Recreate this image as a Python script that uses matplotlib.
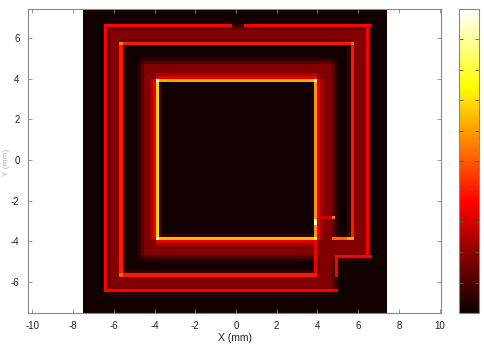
import numpy as np
import matplotlib
matplotlib.use("Agg")
import matplotlib.pyplot as plt

plt.rcParams["font.family"] = ["Liberation Sans", "DejaVu Sans"]
plt.rcParams["axes.unicode_minus"] = False

# field map sampling (mm)
x_range = [-7.5, 7.4]
y_range = [-7.54, 7.44]
n_cells = 100
background = 0.015

# spiral tracks: x0, x1, y0, y1 (mm)
tracks = [
    (-6.42, 6.58, 5.80, 6.65),    # outer turn, top
    (-6.42, -5.60, -6.50, 6.65),  # outer turn, left
    (5.74, 6.58, -4.83, 6.65),    # outer turn, right
    (-6.42, 4.95, -6.50, -5.70),  # outer turn, bottom
    (3.97, 4.95, -6.50, -3.90),   # crossover
    (-4.75, 4.95, 4.00, 4.96),    # inner turn, top
    (-4.75, -3.86, -4.83, 4.96),  # inner turn, left
    (4.00, 4.95, -4.83, 4.96),    # inner turn, right
    (-4.75, 6.58, -4.83, -3.90),  # inner turn, bottom
]
track_level = 0.18

# bright edges: x0, x1, y0, y1, level
edges = [
    # outer borders of the outer turn
    (-6.42, -6.42, -6.50, 6.65, 0.36),
    (-6.42, -0.35, 6.62, 6.62, 0.36),
    (0.45, 6.58, 6.62, 6.62, 0.36),
    (6.55, 6.55, -4.83, 6.65, 0.36),
    (-6.42, 4.95, -6.47, -6.47, 0.36),
    (4.95, 6.58, -4.80, -4.80, 0.36),
    # conductor edges, outer turn
    (-5.62, -5.62, -5.70, 5.80, 0.40),
    (-5.62, 5.75, 5.80, 5.80, 0.40),
    (5.75, 5.75, -3.90, 5.80, 0.40),
    (-5.62, 3.97, -5.70, -5.70, 0.40),
    (4.90, 5.75, -3.90, -3.90, 0.52),
    # crossover
    (3.97, 3.97, -5.70, -3.90, 0.34),
    (4.92, 4.92, -5.70, -4.83, 0.36),
    (4.00, 4.90, -2.79, -2.79, 0.30),
    # glow next to the inner conductor
    (-4.17, -4.17, -3.90, 4.02, 0.24),
    (-3.87, 4.01, 4.32, 4.32, 0.24),
    (4.31, 4.31, -3.90, 4.02, 0.24),
    (-3.87, 4.01, -4.20, -4.20, 0.24),
    (-4.02, -4.02, -3.90, 4.02, 0.33),
    (-3.87, 4.01, 4.17, 4.17, 0.32),
    (4.16, 4.16, -3.90, 4.02, 0.32),
    (-3.87, 4.01, -4.05, -4.05, 0.32),
    # conductor edges, inner turn
    (-3.87, -3.87, -3.90, 4.02, 0.68),
    (-3.87, 4.01, 4.02, 4.02, 0.62),
    (4.01, 4.01, -3.90, 4.02, 0.58),
    (-3.87, 4.01, -3.90, -3.90, 0.64),
]

# hot spots: x, y, level
hot_spots = [
    (-3.87, 4.02, 1.00), (4.01, 4.02, 0.92), (-3.87, -3.90, 0.95),
    (4.01, -3.90, 0.80), (3.96, -3.10, 1.00), (3.96, -2.95, 0.85),
    (4.85, -2.79, 0.55), (-5.62, 5.80, 0.55), (5.75, 5.80, 0.55),
    (-5.62, -5.70, 0.50), (5.75, -3.90, 0.60), (5.60, -3.90, 0.62),
]

xs = np.linspace(x_range[0], x_range[1], n_cells)
ys = np.linspace(y_range[0], y_range[1], n_cells)
dx = xs[1] - xs[0]
dy = ys[1] - ys[0]
X, Y = np.meshgrid(xs, ys)

band = np.zeros_like(X)
for x0, x1, y0, y1 in tracks:
    band[(X >= x0) & (X <= x1) & (Y >= y0) & (Y <= y1)] = track_level
# soften the track borders a little
k = np.ones(3) / 3
band = np.apply_along_axis(lambda r: np.convolve(r, k, mode="same"), 1, band)
band = np.apply_along_axis(lambda c: np.convolve(c, k, mode="same"), 0, band)
field = np.maximum(band, background)

for x0, x1, y0, y1, lev in edges:
    m = ((X >= x0 - dx / 2) & (X <= x1 + dx / 2) &
         (Y >= y0 - dy / 2) & (Y <= y1 + dy / 2))
    field[m] = np.maximum(field[m], lev)

for hx, hy, lev in hot_spots:
    i = np.argmin(np.abs(ys - hy))
    j = np.argmin(np.abs(xs - hx))
    field[i, j] = max(field[i, j], lev)

fig = plt.figure(figsize=(4.84, 3.45), dpi=100)
ax = fig.add_axes([28 / 484, 32 / 345, 413 / 484, 304 / 345])
im = ax.imshow(field, cmap="hot", vmin=0, vmax=1, origin="lower",
               extent=(x_range[0], x_range[1], y_range[0], y_range[1]),
               interpolation="nearest", aspect="auto")
ax.set_xlim(-10.22, 10.07)
ax.set_ylim(y_range[0], y_range[1])
ax.set_xticks(np.arange(-10, 11, 2))
ax.set_yticks(np.arange(-6, 7, 2))
ax.tick_params(direction="in", top=True, right=True, length=3, width=0.6,
               labelsize=7, colors="#888888", labelcolor="#222222", pad=6)
for sp in ax.spines.values():
    sp.set_color("#888888")
    sp.set_linewidth(0.8)
ax.set_xlabel("X (mm)", fontsize=7.5, color="#222222", labelpad=1)
fig.text(7 / 484, 1 - 162 / 345, "Y (mm)", rotation=90, fontsize=6,
         color="#b0b0b0", ha="center", va="center")

cax = fig.add_axes([459 / 484, 32 / 345, 20 / 484, 304 / 345])
cb = fig.colorbar(im, cax=cax, ticks=np.linspace(0, 1, 11))
cb.outline.set_edgecolor("#888888")
cb.outline.set_linewidth(0.8)
cax.tick_params(direction="in", left=True, right=True, length=3, width=0.6,
                labelsize=7, colors="#555555", labelcolor="#222222", pad=4)

fig.savefig("out.png", dpi=100)
